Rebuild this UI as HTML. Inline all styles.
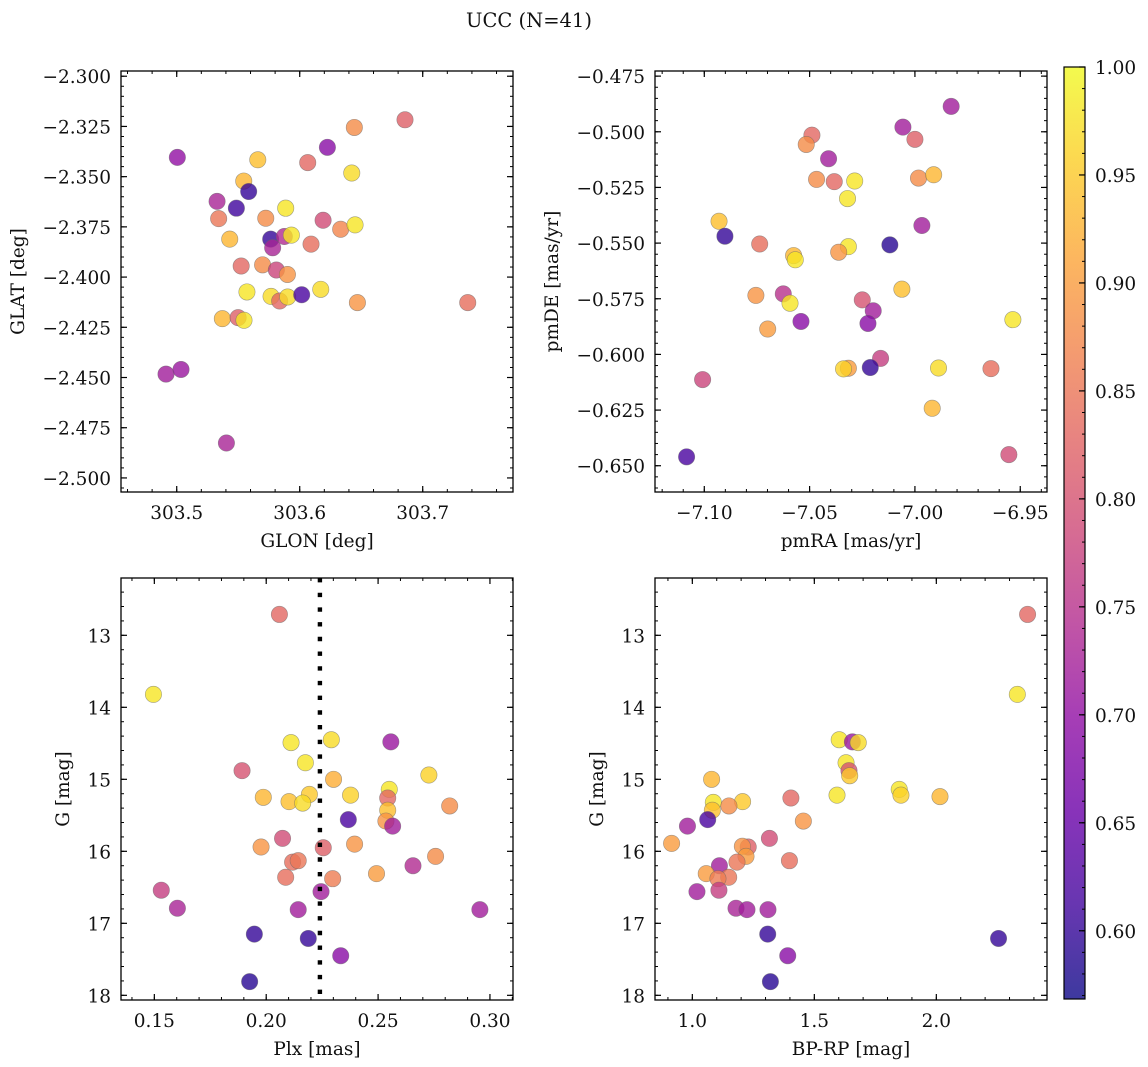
<!DOCTYPE html>
<html><head><meta charset="utf-8"><title>UCC (N=41)</title>
<style>
html,body{margin:0;padding:0;background:#fff;}
svg{display:block;font-family:"DejaVu Serif","Liberation Serif",serif;}
</style></head>
<body>
<svg id="fig" xmlns="http://www.w3.org/2000/svg" width="1148" height="1067" viewBox="0 0 1148 1067">
<defs>
<linearGradient id="plasmaGrad" x1="0" y1="1" x2="0" y2="0"></linearGradient>
</defs>
<text x="529" y="27" font-size="19.5" text-anchor="middle" fill="#111">UCC (N=41)</text>
</svg>
<script>
// ---------- data ----------
const probGLON = [303.5005,303.6856,303.6444,303.6225,303.6065,303.5659,303.6423,303.5545,303.5585,303.5328,303.5485,303.5886,303.5341,303.5724,303.6190,303.6333,303.6450,303.5431,303.5764,303.5875,303.5932,303.5780,303.6092,303.5524,303.5698,303.5810,303.5900,303.5571,303.6171,303.5767,303.5837,303.5902,303.6016,303.6469,303.7366,303.5371,303.5499,303.5547,303.4913,303.5035,303.5404];
const probGLAT = [-2.3404,-2.3217,-2.3255,-2.3354,-2.3430,-2.3416,-2.3482,-2.3522,-2.3574,-2.3623,-2.3657,-2.3657,-2.3709,-2.3707,-2.3717,-2.3762,-2.3740,-2.3811,-2.3811,-2.3798,-2.3791,-2.3854,-2.3836,-2.3945,-2.3939,-2.3965,-2.3987,-2.4074,-2.4061,-2.4096,-2.4119,-2.4099,-2.4088,-2.4127,-2.4127,-2.4207,-2.4202,-2.4215,-2.4483,-2.4460,-2.4826];
const probC1 = [0.70,0.82,0.88,0.69,0.83,0.94,0.97,0.93,0.60,0.73,0.61,0.98,0.85,0.88,0.79,0.87,0.98,0.93,0.60,0.74,0.98,0.73,0.84,0.83,0.88,0.78,0.89,0.98,0.97,0.97,0.83,0.97,0.62,0.89,0.84,0.93,0.82,0.98,0.72,0.71,0.73];

const pmRA = [-6.9828,-7.0057,-7.0000,-7.0489,-7.0516,-7.0410,-7.0467,-7.0383,-7.0286,-6.9983,-6.9911,-7.0320,-7.0930,-7.0902,-7.0737,-7.0119,-7.0316,-6.9967,-7.0576,-7.0568,-7.0362,-7.0062,-7.0755,-7.0625,-7.0593,-7.0250,-7.0198,-6.9535,-7.0541,-7.0223,-7.0699,-7.0163,-7.1008,-7.0316,-7.0339,-7.0212,-6.9888,-6.9639,-6.9918,-7.1084,-6.9554];
const pmDE = [-0.4886,-0.4979,-0.5034,-0.5015,-0.5057,-0.5121,-0.5214,-0.5224,-0.5221,-0.5208,-0.5193,-0.5300,-0.5402,-0.5469,-0.5504,-0.5508,-0.5516,-0.5421,-0.5556,-0.5575,-0.5541,-0.5707,-0.5735,-0.5728,-0.5770,-0.5755,-0.5804,-0.5844,-0.5852,-0.5861,-0.5886,-0.6018,-0.6113,-0.6062,-0.6065,-0.6059,-0.6061,-0.6064,-0.6242,-0.6460,-0.6450];
const probC2 = [0.72,0.72,0.82,0.83,0.88,0.72,0.88,0.83,0.98,0.88,0.93,0.98,0.94,0.60,0.84,0.59,0.98,0.72,0.93,0.98,0.89,0.94,0.89,0.75,0.98,0.80,0.72,0.98,0.69,0.69,0.90,0.77,0.78,0.90,0.96,0.60,0.97,0.84,0.93,0.62,0.79];

const plx = [0.2059,0.1496,0.2111,0.2291,0.2557,0.2175,0.1892,0.2727,0.2301,0.2550,0.1987,0.2193,0.2377,0.2543,0.2102,0.2163,0.2820,0.2543,0.2367,0.2535,0.2565,0.2073,0.1977,0.2255,0.2395,0.2757,0.2118,0.2143,0.2656,0.2493,0.2087,0.2297,0.2245,0.1531,0.1603,0.2143,0.2955,0.1947,0.2188,0.2333,0.1926];
const gmag3 = [12.71,13.82,14.49,14.45,14.48,14.77,14.88,14.94,15.00,15.14,15.25,15.21,15.22,15.26,15.31,15.33,15.37,15.43,15.56,15.58,15.65,15.82,15.94,15.95,15.90,16.07,16.15,16.13,16.20,16.31,16.36,16.38,16.56,16.54,16.79,16.81,16.81,17.15,17.21,17.45,17.81];
const probC3 = [0.83,0.98,0.98,0.97,0.71,0.98,0.80,0.96,0.92,0.98,0.93,0.95,0.96,0.83,0.94,0.97,0.88,0.94,0.62,0.89,0.72,0.79,0.89,0.82,0.89,0.88,0.84,0.85,0.74,0.90,0.84,0.86,0.72,0.77,0.73,0.72,0.72,0.60,0.60,0.69,0.59];
const plxMedian = [0.224];

const bprp = [2.374,2.332,1.602,1.656,1.680,1.630,1.642,1.645,1.079,1.593,1.848,1.855,2.015,1.404,1.206,1.086,1.082,1.150,1.455,1.063,0.980,1.316,0.915,1.229,1.205,1.220,1.398,1.183,1.111,1.057,1.149,1.105,1.109,1.019,1.179,1.224,1.310,1.309,2.255,1.391,1.320];
const gmag4 = [12.71,13.82,14.45,14.48,14.49,14.77,14.88,14.95,15.00,15.22,15.14,15.22,15.24,15.26,15.31,15.32,15.43,15.37,15.58,15.56,15.65,15.82,15.89,15.94,15.93,16.07,16.13,16.15,16.20,16.31,16.36,16.38,16.54,16.56,16.79,16.81,16.81,17.15,17.21,17.45,17.81];
const probC4 = [0.83,0.98,0.98,0.71,0.97,0.98,0.80,0.95,0.93,0.98,0.98,0.96,0.93,0.83,0.95,0.98,0.94,0.88,0.89,0.62,0.72,0.79,0.90,0.82,0.89,0.90,0.84,0.85,0.72,0.90,0.85,0.86,0.77,0.72,0.73,0.72,0.72,0.60,0.60,0.69,0.59];

const ticksP1x = ["303.5","303.6","303.7"];
const ticksP1y = ["−2.300","−2.325","−2.350","−2.375","−2.400","−2.425","−2.450","−2.475","−2.500"];
const ticksP2x = ["−7.10","−7.05","−7.00","−6.95"];
const ticksP2y = ["−0.475","−0.500","−0.525","−0.550","−0.575","−0.600","−0.625","−0.650"];
const ticksP3x = ["0.15","0.20","0.25","0.30"];
const ticksGy = ["13","14","15","16","17","18"];
const ticksP4x = ["1.0","1.5","2.0"];
const ticksCbar = ["0.60","0.65","0.70","0.75","0.80","0.85","0.90","0.95","1.00"];

// ---------- rendering ----------
const NS = "http://www.w3.org/2000/svg";
const svg = document.getElementById('fig');
const VMIN = 0.5684, VMAX = 1.0;
const FS = 18.5;
const PL = [[0,[13,8,135]],[0.1,[65,4,157]],[0.2,[106,0,168]],[0.3,[143,13,164]],[0.4,[177,42,144]],[0.5,[204,71,120]],[0.6,[225,100,98]],[0.7,[242,132,75]],[0.8,[252,166,54]],[0.9,[252,206,37]],[1.0,[240,249,33]]];
function plasma(t){
  t=Math.max(0,Math.min(1,t));
  for(let i=1;i<PL.length;i++){ if(t<=PL[i][0]){ const a=PL[i-1],b=PL[i]; const f=(t-a[0])/(b[0]-a[0]);
    const c=a[1].map((v,k)=>Math.round(v+(b[1][k]-v)*f)); return `rgb(${c[0]},${c[1]},${c[2]})`; } }
  return 'rgb(240,249,33)';
}
function mk(tag, attrs, parent){ const e=document.createElementNS(NS,tag); for(const k in attrs) e.setAttribute(k,attrs[k]); (parent||svg).appendChild(e); return e; }
function num(s){ return parseFloat(s.replace('−','-')); }

function panel(cfg){
  const g = mk('g',{});
  
  
  const sx = v => cfg.bx0 + (v-cfg.xd[0])/(cfg.xd[1]-cfg.xd[0])*(cfg.bx1-cfg.bx0);
  const sy = v => cfg.by0 + (v-cfg.yd[0])/(cfg.yd[1]-cfg.yd[0])*(cfg.by1-cfg.by0);
  const tg = mk('g',{stroke:'#000','stroke-width':1},g);
  const xlo=Math.min(...cfg.xd), xhi=Math.max(...cfg.xd), ylo=Math.min(...cfg.yd), yhi=Math.max(...cfg.yd);
  for(let k=Math.ceil(xlo/cfg.xminor-1e-6);k*cfg.xminor<=xhi+1e-9;k++){ const x=sx(k*cfg.xminor);
    mk('line',{x1:x,x2:x,y1:cfg.by1,y2:cfg.by1-3},tg); mk('line',{x1:x,x2:x,y1:cfg.by0,y2:cfg.by0+3},tg); }
  for(let k=Math.ceil(ylo/cfg.yminor-1e-6);k*cfg.yminor<=yhi+1e-9;k++){ const y=sy(k*cfg.yminor);
    mk('line',{x1:cfg.bx0,x2:cfg.bx0+3,y1:y,y2:y},tg); mk('line',{x1:cfg.bx1,x2:cfg.bx1-3,y1:y,y2:y},tg); }
  cfg.xt.forEach(s=>{ const x=sx(num(s));
    mk('line',{x1:x,x2:x,y1:cfg.by1,y2:cfg.by1-6,'stroke-width':1.2},tg); mk('line',{x1:x,x2:x,y1:cfg.by0,y2:cfg.by0+6,'stroke-width':1.2},tg);
    const t=mk('text',{x:x,y:cfg.by1+27,'font-size':FS,'text-anchor':'middle',fill:'#111'},g); t.textContent=s;
    
     });
  cfg.yt.forEach(s=>{ const y=sy(num(s));
    mk('line',{x1:cfg.bx0,x2:cfg.bx0+6,y1:y,y2:y,'stroke-width':1.2},tg); mk('line',{x1:cfg.bx1,x2:cfg.bx1-6,y1:y,y2:y,'stroke-width':1.2},tg);
    const t=mk('text',{x:cfg.bx0-10,y:y+7,'font-size':FS,'text-anchor':'end',fill:'#111'},g); t.textContent=s;
    
     });
  const pg = mk('g',{},g);
  
  
  cfg.xs.forEach((xv,i)=>{
    const c = mk('circle',{cx:sx(xv),cy:sy(cfg.ys[i]),r:8.2,fill:plasma((cfg.cs[i]-VMIN)/(VMAX-VMIN)),'fill-opacity':0.8,stroke:'#666','stroke-opacity':0.6,'stroke-width':0.6},pg);
    
    
  });
  if(cfg.vline){ cfg.vline.forEach(v=>{ const l=mk('line',{x1:sx(v),x2:sx(v),y1:cfg.by0,y2:cfg.by1,stroke:'#000','stroke-width':4.4,'stroke-dasharray':'4.4 10.3'},g);
    
     }); }
  const b=mk('rect',{x:cfg.bx0,y:cfg.by0,width:cfg.bx1-cfg.bx0,height:cfg.by1-cfg.by0,fill:'none',stroke:'#000','stroke-width':1.3},g);
  
  
  const xl=mk('text',{x:(cfg.bx0+cfg.bx1)/2,y:cfg.by1+55,'font-size':FS,'text-anchor':'middle',fill:'#111'},g); xl.textContent=cfg.xlabel;
  
  
  const cy=(cfg.by0+cfg.by1)/2;
  const yl=mk('text',{x:cfg.ylx,y:cy,'font-size':FS,'text-anchor':'middle',fill:'#111',transform:`rotate(-90 ${cfg.ylx} ${cy})`},g); yl.textContent=cfg.ylabel;
  
  
}

panel({name:'panel-glon-glat',bx0:121,bx1:513,by0:71,by1:492,xd:[303.4547,303.7734],yd:[-2.2974,-2.5070],xminor:0.02,yminor:0.005,
  xt:ticksP1x,yt:ticksP1y,xs:probGLON,ys:probGLAT,cs:probC1,xlabel:'GLON [deg]',ylabel:'GLAT [deg]',ylx:24});
panel({name:'panel-pm',bx0:655,bx1:1047,by0:71,by1:492,xd:[-7.1234,-6.9373],yd:[-0.4727,-0.6618],xminor:0.01,yminor:0.005,
  xt:ticksP2x,yt:ticksP2y,xs:pmRA,ys:pmDE,cs:probC2,xlabel:'pmRA [mas/yr]',ylabel:'pmDE [mas/yr]',ylx:558});
panel({name:'panel-plx-g',bx0:121,bx1:513,by0:578,by1:1000,xd:[0.1351,0.3103],yd:[12.204,18.065],xminor:0.01,yminor:0.2,
  xt:ticksP3x,yt:ticksGy,xs:plx,ys:gmag3,cs:probC3,xlabel:'Plx [mas]',ylabel:'G [mag]',ylx:69,vline:plxMedian});
panel({name:'panel-cmd',bx0:655,bx1:1047,by0:578,by1:1000,xd:[0.847,2.4536],yd:[12.204,18.065],xminor:0.1,yminor:0.2,
  xt:ticksP4x,yt:ticksGy,xs:bprp,ys:gmag4,cs:probC4,xlabel:'BP-RP [mag]',ylabel:'G [mag]',ylx:603});

const grad=document.getElementById('plasmaGrad');
PL.forEach(p=>{ mk('stop',{offset:p[0],'stop-color':`rgb(${p[1].join(',')})`,'stop-opacity':0.8},grad); });
const cb={x0:1064,x1:1085,y0:67,y1:999};
const cg=mk('g',{});


mk('rect',{x:cb.x0,y:cb.y0,width:cb.x1-cb.x0,height:cb.y1-cb.y0,fill:'url(#plasmaGrad)',stroke:'#000','stroke-width':1.2},cg);
const cy=v=>cb.y1-(v-VMIN)/(VMAX-VMIN)*(cb.y1-cb.y0);
for(let k=57;k<=100;k++){ const v=k/100; if(v<VMIN) continue; mk('line',{x1:cb.x1,x2:cb.x1-3,y1:cy(v),y2:cy(v),stroke:'#000','stroke-width':1},cg); }
ticksCbar.forEach(s=>{ const y=cy(num(s));
  mk('line',{x1:cb.x1,x2:cb.x1-6,y1:y,y2:y,stroke:'#000','stroke-width':1.2},cg);
  const t=mk('text',{x:cb.x1+10,y:y+7,'font-size':FS,fill:'#111'},cg); t.textContent=s;
  
   });
</script>
</body></html>
